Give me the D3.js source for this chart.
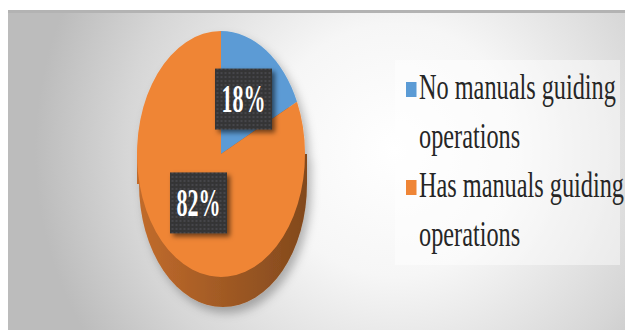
<!DOCTYPE html>
<html>
<head>
<meta charset="utf-8">
<script src="https://cdn.jsdelivr.net/npm/d3@7"></script>
<style>
  html, body { margin: 0; padding: 0; background: #ffffff; }
  svg { display: block; }
  .serif { font-family: "Liberation Serif", "Times New Roman", Times, serif; }
</style>
</head>
<body>
<script>
// Survey answers: does the organisation have manuals guiding operations?
const categories = ["No manuals guiding operations", "Has manuals guiding operations"];
const legendLines = [["No manuals guiding", "operations"], ["Has manuals guiding", "operations"]];
const shares = [18, 82];
const shareLabels = ["18%", "82%"];
const sliceColors = ["#5b9bd5", "#ef8536"];

const W = 625, H = 330;
const svg = d3.select("body").append("svg").attr("width", W).attr("height", H);
const defs = svg.append("defs");

// ---- panel background -------------------------------------------------
const bg = defs.append("radialGradient").attr("id", "panelBg")
  .attr("gradientUnits", "userSpaceOnUse")
  .attr("cx", 395).attr("cy", 150).attr("r", 360);
bg.append("stop").attr("offset", 0).attr("stop-color", "#ffffff");
bg.append("stop").attr("offset", 0.35).attr("stop-color", "#f6f6f6");
bg.append("stop").attr("offset", 0.75).attr("stop-color", "#d6d6d6");
bg.append("stop").attr("offset", 1).attr("stop-color", "#bcbcbc");

svg.append("rect").attr("x", 8).attr("y", 10).attr("width", W - 8).attr("height", H - 10)
  .attr("fill", "url(#panelBg)");
svg.append("line").attr("x1", 8).attr("x2", W).attr("y1", 11.5).attr("y2", 11.5)
  .attr("stroke", "#b3b3b3").attr("stroke-width", 3);

// ---- filters and patterns ---------------------------------------------
const pieShadow = defs.append("filter").attr("id", "pieShadow")
  .attr("x", "-30%").attr("y", "-30%").attr("width", "160%").attr("height", "160%");
pieShadow.append("feDropShadow").attr("dx", 4).attr("dy", 6).attr("stdDeviation", 5)
  .attr("flood-color", "#000").attr("flood-opacity", 0.28);

const boxShadow = defs.append("filter").attr("id", "boxShadow")
  .attr("x", "-30%").attr("y", "-30%").attr("width", "160%").attr("height", "160%");
boxShadow.append("feDropShadow").attr("dx", 3).attr("dy", 3).attr("stdDeviation", 2.5)
  .attr("flood-color", "#000").attr("flood-opacity", 0.55);

const dots = defs.append("pattern").attr("id", "dotted")
  .attr("patternUnits", "userSpaceOnUse").attr("width", 4).attr("height", 4);
dots.append("rect").attr("width", 4).attr("height", 4).attr("fill", "#343436");
dots.append("circle").attr("cx", 2).attr("cy", 2).attr("r", 0.8).attr("fill", "#5c5c60");

const side = defs.append("linearGradient").attr("id", "sideShade")
  .attr("x1", 0).attr("y1", 0).attr("x2", 1).attr("y2", 0);
side.append("stop").attr("offset", 0).attr("stop-color", d3.color(sliceColors[1]).darker(0.6));
side.append("stop").attr("offset", 0.5).attr("stop-color", d3.color(sliceColors[1]).darker(1.1));
side.append("stop").attr("offset", 1).attr("stop-color", d3.color(sliceColors[1]).darker(1.7));

// ---- pie geometry -------------------------------------------------------
const cx = 221, cy = 154, rx = 84, ry = 123, depth = 30, R = 100;

const pie = d3.pie().sort(null).value(d => d)(shares);
const arc = d3.arc().innerRadius(0).outerRadius(R);
const sx = rx / R, sy = ry / R;

const pieG = svg.append("g").attr("filter", "url(#pieShadow)");

// extruded side: swept ellipse (bottom ellipse + band between extremes)
const sideG = pieG.append("g").attr("fill", "url(#sideShade)");
sideG.append("ellipse").attr("cx", cx + 2).attr("cy", cy + depth).attr("rx", rx).attr("ry", ry);
sideG.append("rect").attr("x", cx - rx).attr("y", cy).attr("width", 2 * rx + 2).attr("height", depth);

// top face
pieG.append("g").attr("transform", `translate(${cx},${cy}) scale(${sx},${sy})`)
  .selectAll("path").data(pie).join("path")
  .attr("d", arc)
  .attr("fill", (d, i) => sliceColors[i]);

// squeeze a text element horizontally so it spans the given width
function fitWidth(sel, target) {
  sel.each(function () {
    const w = this.getComputedTextLength();
    const k = w > 0 ? target / w : 1;
    d3.select(this).attr("transform", `scale(${k},1)`);
  });
}

// ---- data labels ---------------------------------------------------------
const boxW = 57, boxH = 61;
const labelG = svg.append("g").selectAll("g").data(pie).join("g")
  .attr("transform", d => {
    const c = arc.centroid(d);
    return `translate(${cx + c[0] * sx},${cy + c[1] * sy - 3})`;
  });
labelG.append("rect")
  .attr("x", -boxW / 2).attr("y", -boxH / 2).attr("width", boxW).attr("height", boxH)
  .attr("fill", "url(#dotted)").attr("filter", "url(#boxShadow)");
labelG.append("text")
  .attr("class", "serif")
  .attr("text-anchor", "middle").attr("y", 13)
  .attr("font-weight", "bold").attr("font-size", 39)
  .attr("fill", "#ffffff")
  .text((d, i) => shareLabels[i])
  .call(fitWidth, 44);

// ---- legend --------------------------------------------------------------
svg.append("rect").attr("x", 395).attr("y", 60).attr("width", 225).attr("height", 205)
  .attr("fill", "#ffffff").attr("fill-opacity", 0.45);

const lineGap = 49, firstBase = 99;
const legend = svg.append("g").attr("transform", "translate(406,0)");
const items = legend.selectAll("g").data(categories).join("g")
  .attr("transform", (d, i) => `translate(0,${firstBase + i * 2 * lineGap})`);
items.append("rect").attr("x", 0).attr("y", -17).attr("width", 10.5).attr("height", 15)
  .attr("fill", (d, i) => sliceColors[i]);

// text squeezed to the same horizontal factor as the first legend line
const textG = items.append("g").attr("transform", "translate(13,0)");
const txt = textG.append("text")
  .attr("class", "serif")
  .attr("font-size", 36).attr("fill", "#262626");
txt.selectAll("tspan").data((d, i) => legendLines[i]).join("tspan")
  .attr("x", 0).attr("y", (d, j) => j * lineGap)
  .text(d => d);
const firstLen = txt.select("tspan").node().getComputedTextLength();
const k = 197 / firstLen;
txt.attr("transform", `scale(${k},1)`);
</script>
</body>
</html>
